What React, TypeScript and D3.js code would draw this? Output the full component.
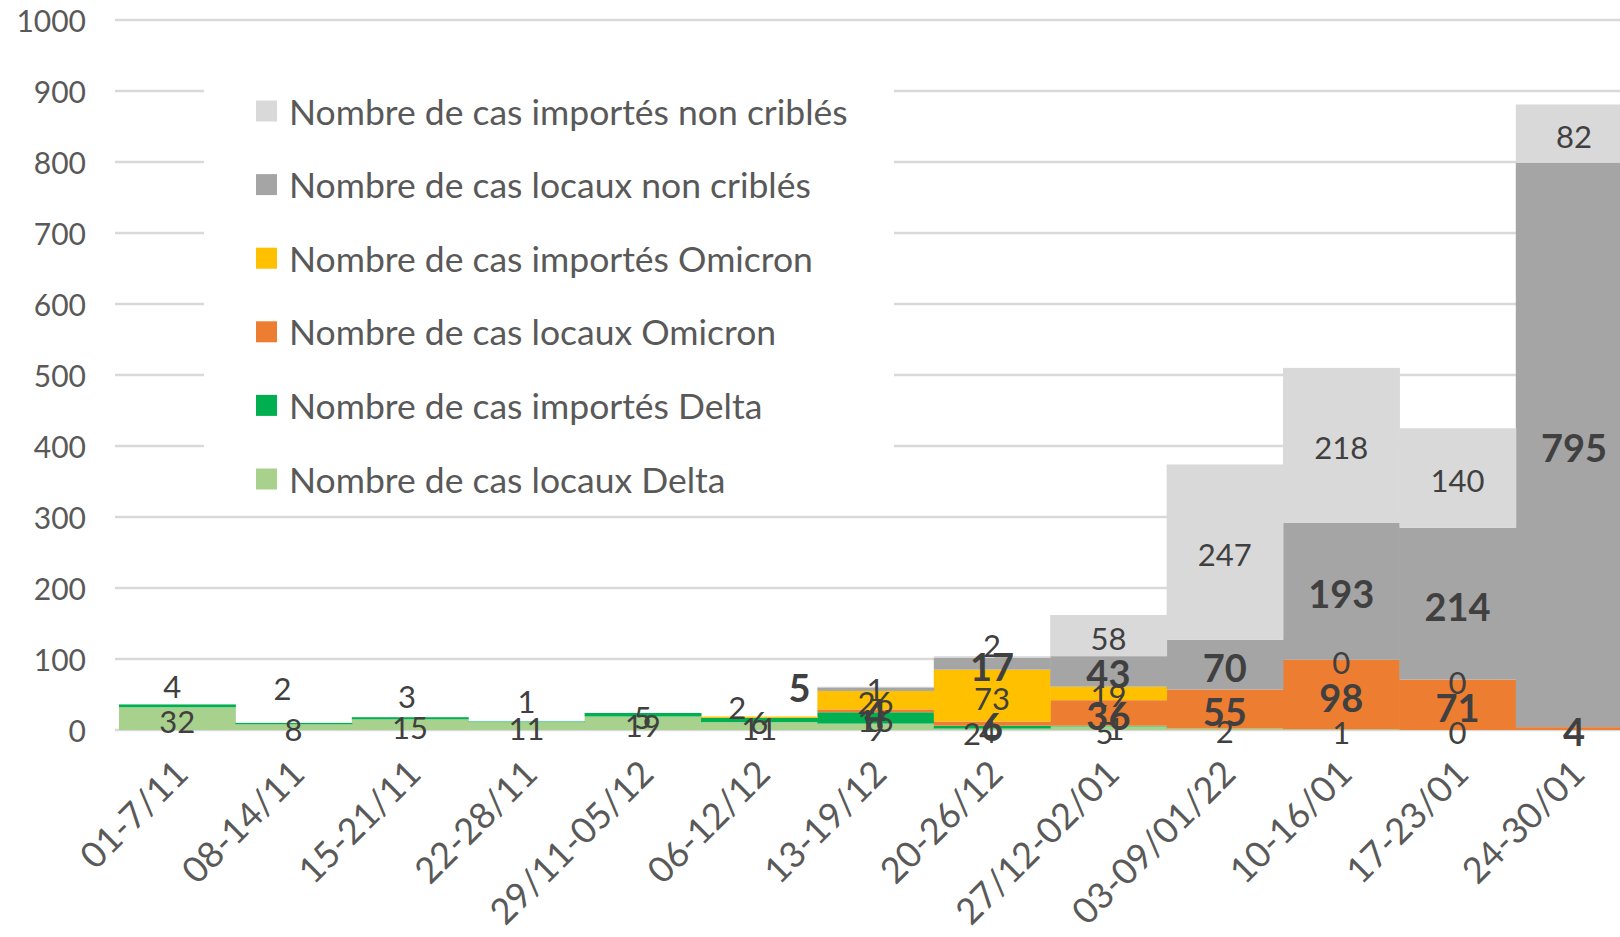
import * as d3 from "d3";

const categories = [
  "01-7/11", "08-14/11", "15-21/11", "22-28/11", "29/11-05/12", "06-12/12",
  "13-19/12", "20-26/12", "27/12-02/01", "03-09/01/22", "10-16/01", "17-23/01", "24-30/01",
];

// null = no value / no label in the source chart
const locauxDelta = [32, 8, 15, 11, 19, 11, 9, 2, 5, 2, 1, 0, null];
const importesDelta = [4, 2, 3, 1, 5, 6, 16, 4, 1, null, null, null, null];
const locauxOmicron = [null, null, null, null, null, null, 4, 6, 36, 55, 98, 71, 4];
const importesOmicron = [null, null, null, null, null, 2, 26, 73, 19, null, 0, 0, null];
const locauxNonCribles = [null, null, null, null, null, null, 5, 17, 43, 70, 193, 214, 795];
const importesNonCribles = [null, null, null, null, null, null, 1, 2, 58, 247, 218, 140, 82];

const yTicks = [0, 100, 200, 300, 400, 500, 600, 700, 800, 900, 1000];

type Series = { key: string; name: string; values: (number | null)[]; color: string; bold: boolean };

// stacking order, bottom to top
const series: Series[] = [
  { key: "ld", name: "Nombre de cas locaux Delta", values: locauxDelta, color: "#a9d18e", bold: false },
  { key: "id", name: "Nombre de cas importés Delta", values: importesDelta, color: "#00b050", bold: false },
  { key: "lo", name: "Nombre de cas locaux Omicron", values: locauxOmicron, color: "#ed7d31", bold: true },
  { key: "io", name: "Nombre de cas importés Omicron", values: importesOmicron, color: "#ffc000", bold: false },
  { key: "ln", name: "Nombre de cas locaux non criblés", values: locauxNonCribles, color: "#a5a5a5", bold: true },
  { key: "in", name: "Nombre de cas importés non criblés", values: importesNonCribles, color: "#d9d9d9", bold: false },
];

// hand-moved labels in the original (dx, dy in px)
const nudges: Record<string, [number, number]> = {
  "id-0": [-5, -22],
  "id-1": [-11, -38],
  "id-2": [-3, -24],
  "id-3": [0, -23],
  "io-5": [-22, -12],
  "ln-6": [-76, -4],
  "in-7": [0, -14],
  "ld-7": [-20, 2],
  "id-7": [-4, 2],
  "ld-8": [-4, 2],
  "id-8": [7, 0],
};

const W = 1620;
const H = 937;
const FONT = "Lato, 'Open Sans', sans-serif";

export default function App() {
  const x = d3
    .scaleBand()
    .domain(categories)
    .range([119, 119 + 13 * 116.4])
    .padding(0);
  const y = d3.scaleLinear().domain([0, 1000]).range([730, 20]);

  const rows = categories.map((c, i) => {
    const r: Record<string, number | string> = { cat: c };
    series.forEach((s) => (r[s.key] = s.values[i] ?? 0));
    return r;
  });
  const stacked = d3
    .stack<Record<string, number | string>>()
    .keys(series.map((s) => s.key))(rows as any);

  const legendItems = [...series].reverse();

  return (
    <svg
      width={W}
      height={H}
      style={{ position: "absolute", left: 0, top: 0, background: "#fff" }}
    >
      {/* gridlines */}
      {yTicks.map((t) => (
        <line key={t} x1={115} x2={W} y1={y(t)} y2={y(t)} stroke="#d9d9d9" strokeWidth={2.5} />
      ))}
      {/* legend background covers the grid */}
      <rect x={204} y={55} width={690} height={445} fill="#fff" />

      {/* bars */}
      {stacked.map((layer, si) => (
        <g key={layer.key}>
          {layer.map((d, i) =>
            series[si].values[i] == null ? null : (
              <rect
                key={i}
                x={x(categories[i])}
                width={x.bandwidth() + 0.5}
                y={y(d[1])}
                height={y(d[0]) - y(d[1])}
                fill={series[si].color}
              />
            )
          )}
        </g>
      ))}

      {/* data labels */}
      {stacked.map((layer, si) => (
        <g key={"l" + layer.key}>
          {layer.map((d, i) => {
            const v = series[si].values[i];
            if (v == null) return null;
            const [dx, dy] = nudges[`${series[si].key}-${i}`] ?? [0, 0];
            const cx = (x(categories[i]) ?? 0) + x.bandwidth() / 2 + dx;
            const cy = y((d[0] + d[1]) / 2) + 2 + dy;
            return (
              <text
                key={i}
                x={cx}
                y={cy}
                textAnchor="middle"
                dominantBaseline="central"
                fontFamily={FONT}
                fontSize={series[si].bold ? 38 : 31}
                fontWeight={series[si].bold ? 700 : 400}
                fill="#404040"
              >
                {v}
              </text>
            );
          })}
        </g>
      ))}

      {/* y axis labels */}
      {yTicks.map((t) => (
        <text
          key={"y" + t}
          x={86}
          y={y(t)}
          textAnchor="end"
          dominantBaseline="central"
          fontFamily={FONT}
          fontSize={30}
          fill="#595959"
        >
          {t}
        </text>
      ))}

      {/* x axis labels */}
      {categories.map((c) => {
        const px = (x(c) ?? 0) + x.bandwidth() / 2 - 6;
        const py = 757;
        return (
          <text
            key={"x" + c}
            transform={`translate(${px},${py}) rotate(-45)`}
            textAnchor="end"
            dy="0.75em"
            fontFamily={FONT}
            fontSize={36}
            fill="#595959"
          >
            {c}
          </text>
        );
      })}

      {/* legend */}
      {legendItems.map((s, i) => {
        const cy = 111 + i * 73.6;
        return (
          <g key={"lg" + s.key}>
            <rect x={256} y={cy - 10.5} width={21} height={21} fill={s.color} />
            <text
              x={289}
              y={cy}
              dominantBaseline="central"
              fontFamily={FONT}
              fontSize={35.5}
              fill="#595959"
            >
              {s.name}
            </text>
          </g>
        );
      })}
    </svg>
  );
}
